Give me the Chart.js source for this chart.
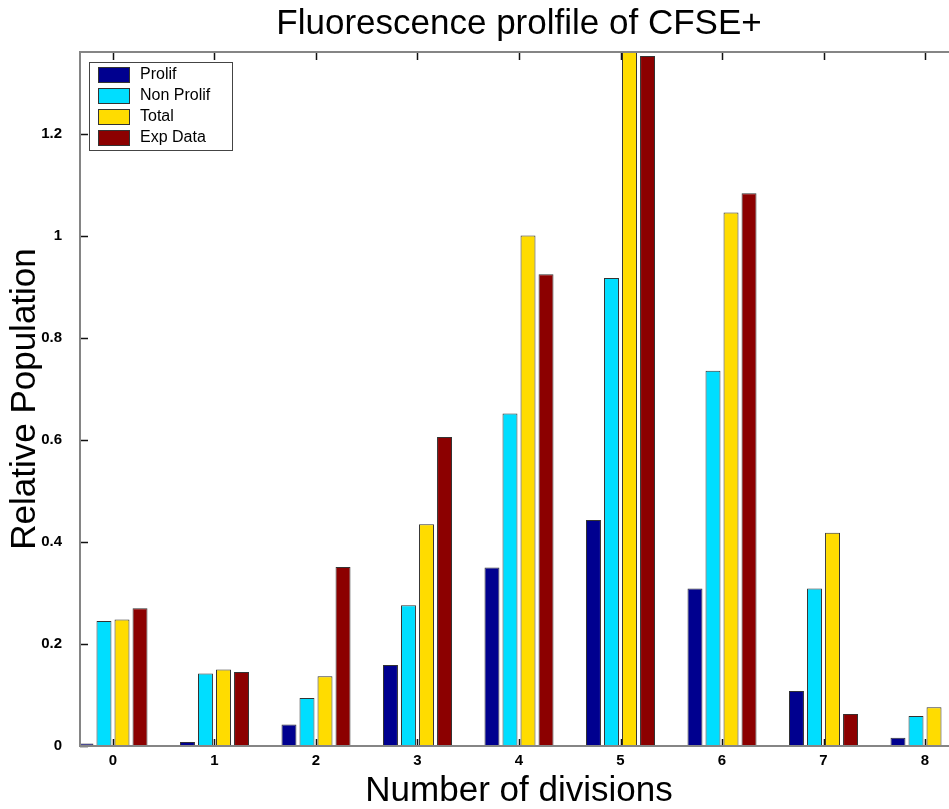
<!DOCTYPE html>
<html>
<head>
<meta charset="utf-8">
<script src="https://cdn.jsdelivr.net/npm/chart.js@4.4.0/dist/chart.umd.min.js"></script>
<style>
html, body { margin: 0; padding: 0; background: #fff; overflow: hidden; }
</style>
</head>
<body>
<canvas id="myChart" width="970" height="809"></canvas>
<script>
// values
const divisions = [0, 1, 2, 3, 4, 5, 6, 7, 8];
const prolif    = [0.005, 0.008, 0.042, 0.159, 0.350, 0.443, 0.309, 0.108, 0.016];
const nonProlif = [0.245, 0.142, 0.094, 0.276, 0.652, 0.918, 0.736, 0.309, 0.059];
const total     = [0.248, 0.150, 0.137, 0.435, 1.001, 1.400, 1.046, 0.418, 0.076];
const expData   = [0.270, 0.145, 0.351, 0.606, 0.925, 1.353, 1.084, 0.063, null];
const yTicks    = [0, 0.2, 0.4, 0.6, 0.8, 1, 1.2];

Chart.defaults.font.family = "'Liberation Sans', Arial, Helvetica, sans-serif";
Chart.defaults.color = '#000';

function pts(arr) {
    return arr.map(function(v, i){ return {x: divisions[i], y: v}; });
}

// matlab style box, inward ticks and boxed legend
const matlabBits = {
    id: 'matlabBits',
    afterDatasetsDraw: function(chart) {
        const ctx = chart.ctx;
        const a = chart.chartArea;
        const x = chart.scales.x, y = chart.scales.y;
        ctx.save();
        ctx.strokeStyle = '#111';
        ctx.lineWidth = 1.5;
        ctx.beginPath();
        divisions.forEach(function(d){
            const px = Math.round(x.getPixelForValue(d)) + 0.5;
            ctx.moveTo(px, a.bottom); ctx.lineTo(px, a.bottom - 7);
            ctx.moveTo(px, a.top); ctx.lineTo(px, a.top + 8);
        });
        yTicks.forEach(function(v){
            const py = Math.round(y.getPixelForValue(v)) + 0.5;
            ctx.moveTo(a.left, py); ctx.lineTo(a.left + 8, py);
            ctx.moveTo(a.right, py); ctx.lineTo(a.right - 8, py);
        });
        ctx.stroke();
        ctx.strokeStyle = '#858585';
        ctx.lineWidth = 2;
        ctx.strokeRect(a.left, a.top, a.right - a.left, a.bottom - a.top);
        ctx.restore();
    },
    afterDraw: function(chart) {
        const ctx = chart.ctx;
        const a = chart.chartArea;
        const lx = a.left + 9, ly = a.top + 10;
        ctx.save();
        ctx.fillStyle = '#fff';
        ctx.fillRect(lx, ly, 143, 88);
        ctx.strokeStyle = '#444';
        ctx.lineWidth = 1;
        ctx.strokeRect(lx + 0.5, ly + 0.5, 143, 88);
        ctx.font = "16px 'Liberation Sans', Arial, sans-serif";
        ctx.textBaseline = 'middle';
        chart.data.datasets.forEach(function(ds, i){
            const yy = ly + 5 + i * 21;
            ctx.fillStyle = ds.backgroundColor;
            ctx.fillRect(lx + 9, yy, 31, 15);
            ctx.strokeStyle = '#333';
            ctx.strokeRect(lx + 9.5, yy + 0.5, 31, 15);
            ctx.fillStyle = '#000';
            ctx.fillText(ds.label, lx + 51, yy + 8);
        });
        ctx.restore();
    }
};

const ctx = document.getElementById('myChart');
const myChart = new Chart(ctx, {
    type: 'bar',
    data: {
        datasets: [
            {label: 'Prolif', data: pts(prolif), backgroundColor: 'rgb(0,0,143)'},
            {label: 'Non Prolif', data: pts(nonProlif), backgroundColor: 'rgb(0,222,255)'},
            {label: 'Total', data: pts(total), backgroundColor: 'rgb(255,220,0)'},
            {label: 'Exp Data', data: pts(expData), backgroundColor: 'rgb(140,0,0)'}
        ]
    },
    options: {
        responsive: false,
        animation: false,
        layout: {padding: {left: 0, right: 12, top: 0, bottom: 0}},
        datasets: {
            bar: {
                categoryPercentage: 0.71,
                barPercentage: 0.83,
                borderWidth: 1,
                borderColor: '#333',
                borderSkipped: 'start'
            }
        },
        plugins: {
            legend: {display: false},
            tooltip: {enabled: false},
            title: {
                display: true,
                fullSize: false,
                text: 'Fluorescence prolfile of CFSE+',
                color: '#000',
                font: {size: 35, weight: 'normal', lineHeight: 1.2},
                padding: {top: 3, bottom: 7}
            }
        },
        scales: {
            x: {
                type: 'linear',
                offset: false,
                min: -0.325,
                max: 8.325,
                grid: {display: false, drawTicks: false},
                border: {display: false},
                afterBuildTicks: function(s){ s.ticks = divisions.map(function(v){ return {value: v}; }); },
                afterFit: function(s){ s.height = 63; },
                ticks: {
                    padding: 6,
                    autoSkip: false,
                    maxRotation: 0,
                    color: '#000',
                    font: {size: 15, weight: 'bold'},
                    callback: function(v){ return String(v); }
                },
                title: {
                    display: true,
                    text: 'Number of divisions',
                    color: '#000',
                    font: {size: 35, weight: 'normal', lineHeight: 1.2},
                    padding: {top: 0, bottom: -3}
                }
            },
            y: {
                min: 0,
                max: 1.361,
                grid: {display: false, drawTicks: false},
                border: {display: false},
                afterBuildTicks: function(s){ s.ticks = yTicks.map(function(v){ return {value: v}; }); },
                afterFit: function(s){ s.width = 80; },
                ticks: {
                    padding: 18,
                    color: '#000',
                    font: {size: 15, weight: 'bold'},
                    callback: function(v){ return String(Number(v.toFixed(1))); }
                },
                title: {
                    display: true,
                    text: 'Relative Population',
                    color: '#000',
                    font: {size: 35, weight: 'normal', lineHeight: 1.2},
                    padding: {top: 4, bottom: 0}
                }
            }
        }
    },
    plugins: [matlabBits]
});
</script>
</body>
</html>
